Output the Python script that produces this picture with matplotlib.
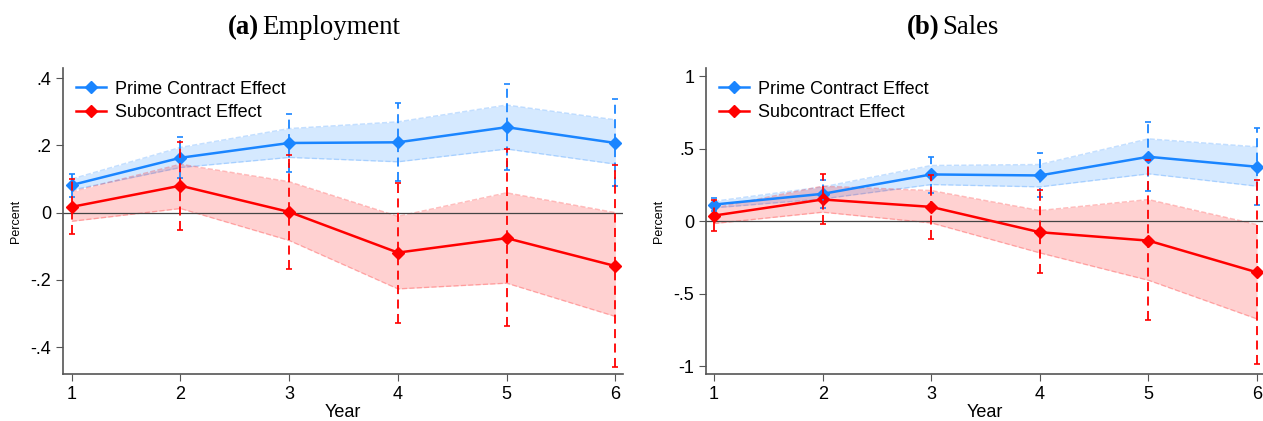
import matplotlib.pyplot as plt

years = [1, 2, 3, 4, 5, 6]

# employment
emp_prime = [0.082, 0.163, 0.207, 0.209, 0.254, 0.207]
emp_prime_lo = [0.067, 0.134, 0.164, 0.151, 0.189, 0.144]
emp_prime_hi = [0.100, 0.194, 0.250, 0.270, 0.320, 0.276]
emp_prime_ci_lo = [0.047, 0.104, 0.121, 0.095, 0.128, 0.080]
emp_prime_ci_hi = [0.114, 0.224, 0.294, 0.325, 0.382, 0.337]
emp_sub = [0.017, 0.080, 0.002, -0.119, -0.076, -0.159]
emp_sub_lo = [-0.026, 0.012, -0.083, -0.227, -0.210, -0.309]
emp_sub_hi = [0.062, 0.144, 0.092, -0.011, 0.059, 0.000]
emp_sub_ci_lo = [-0.065, -0.051, -0.167, -0.328, -0.336, -0.459]
emp_sub_ci_hi = [0.100, 0.210, 0.171, 0.089, 0.188, 0.143]

# sales
sal_prime = [0.115, 0.189, 0.323, 0.316, 0.445, 0.376]
sal_prime_lo = [0.092, 0.154, 0.253, 0.237, 0.327, 0.242]
sal_prime_hi = [0.138, 0.237, 0.385, 0.392, 0.569, 0.514]
sal_prime_ci_lo = [0.069, 0.092, 0.196, 0.166, 0.207, 0.110]
sal_prime_ci_hi = [0.161, 0.283, 0.445, 0.468, 0.687, 0.645]
sal_sub = [0.039, 0.150, 0.099, -0.076, -0.134, -0.353]
sal_sub_lo = [-0.016, 0.062, -0.012, -0.219, -0.408, -0.675]
sal_sub_hi = [0.092, 0.242, 0.212, 0.074, 0.150, -0.023]
sal_sub_ci_lo = [-0.069, -0.018, -0.120, -0.357, -0.680, -0.984]
sal_sub_ci_hi = [0.145, 0.327, 0.316, 0.219, 0.426, 0.283]

emp_ticks = [-0.4, -0.2, 0, 0.2, 0.4]
emp_ticklabels = ['-.4', '-.2', '0', '.2', '.4']
sal_ticks = [-1, -0.5, 0, 0.5, 1]
sal_ticklabels = ['-1', '-.5', '0', '.5', '1']

blue = '#1a85ff'
red = '#ff0000'
plt.rcParams['font.family'] = ['Liberation Sans', 'DejaVu Sans']

fig = plt.figure(figsize=(12.63, 4.21), dpi=100)
ax1 = fig.add_axes([63 / 1263, 47 / 421, 560 / 1263, 306 / 421])
ax2 = fig.add_axes([706 / 1263, 47 / 421, 557 / 1263, 306 / 421])


def draw(ax, prime, plo, phi, pclo, pchi, sub, slo, shi, sclo, schi):
    for y, lo, hi, c, lab in [
        (prime, plo, phi, blue, 'Prime Contract Effect'),
        (sub, slo, shi, red, 'Subcontract Effect'),
    ]:
        ax.fill_between(years, lo, hi, color=c, alpha=0.18, lw=0, zorder=1)
        ax.plot(years, lo, color=c, alpha=0.25, lw=1, ls='--', zorder=1)
        ax.plot(years, hi, color=c, alpha=0.25, lw=1, ls='--', zorder=1)
        ax.plot(years, y, color=c, lw=1.8, marker='D', ms=6.5, label=lab, zorder=3)
    for y, clo, chi, c in [(prime, pclo, pchi, blue), (sub, sclo, schi, red)]:
        err = [[v - l for v, l in zip(y, clo)], [h - v for v, h in zip(y, chi)]]
        _, caps, bars = ax.errorbar(years, y, yerr=err, fmt='none', ecolor=c,
                                    elinewidth=1.3, capsize=2, capthick=1.2, zorder=4)
        for b in bars:
            b.set_linestyle((0, (5, 3)))
    ax.axhline(0, color='#444444', lw=0.9, zorder=2)
    for s in ['top', 'right']:
        ax.spines[s].set_visible(False)
    for s in ['left', 'bottom']:
        ax.spines[s].set_color('#555555')
        ax.spines[s].set_linewidth(1.2)
    ax.tick_params(colors='#555555', labelcolor='black', labelsize=13, length=5)
    ax.set_xticks(years)
    ax.set_xlabel('Year', fontsize=13, labelpad=1)
    ax.set_ylabel('Percent', fontsize=9, labelpad=6)
    ax.legend(loc='upper left', frameon=False, fontsize=13, handlelength=1.7,
              handletextpad=0.5, borderaxespad=0.3, labelspacing=0.35)


draw(ax1, emp_prime, emp_prime_lo, emp_prime_hi, emp_prime_ci_lo, emp_prime_ci_hi,
     emp_sub, emp_sub_lo, emp_sub_hi, emp_sub_ci_lo, emp_sub_ci_hi)
ax1.set_xlim(0.92, 6.07)
ax1.set_ylim(-0.48, 0.43)
ax1.set_yticks(emp_ticks)
ax1.set_yticklabels(emp_ticklabels)

draw(ax2, sal_prime, sal_prime_lo, sal_prime_hi, sal_prime_ci_lo, sal_prime_ci_hi,
     sal_sub, sal_sub_lo, sal_sub_hi, sal_sub_ci_lo, sal_sub_ci_hi)
ax2.set_xlim(0.926, 6.055)
ax2.set_ylim(-1.055, 1.058)
ax2.set_yticks(sal_ticks)
ax2.set_yticklabels(sal_ticklabels)

# panel titles: bold letter, regular name
serif = ['Liberation Serif', 'DejaVu Serif']
for x, letter, name in [(259, '(a)', 'Employment'), (939, '(b)', 'Sales')]:
    fig.text(x / 1263, 1 - 28 / 421, letter, ha='right', va='center',
             fontsize=19.3, fontweight='bold', family=serif)
    fig.text((x + 3) / 1263, 1 - 28 / 421, name, ha='left', va='center',
             fontsize=19.3, family=serif)

fig.savefig('out.png', dpi=100)
